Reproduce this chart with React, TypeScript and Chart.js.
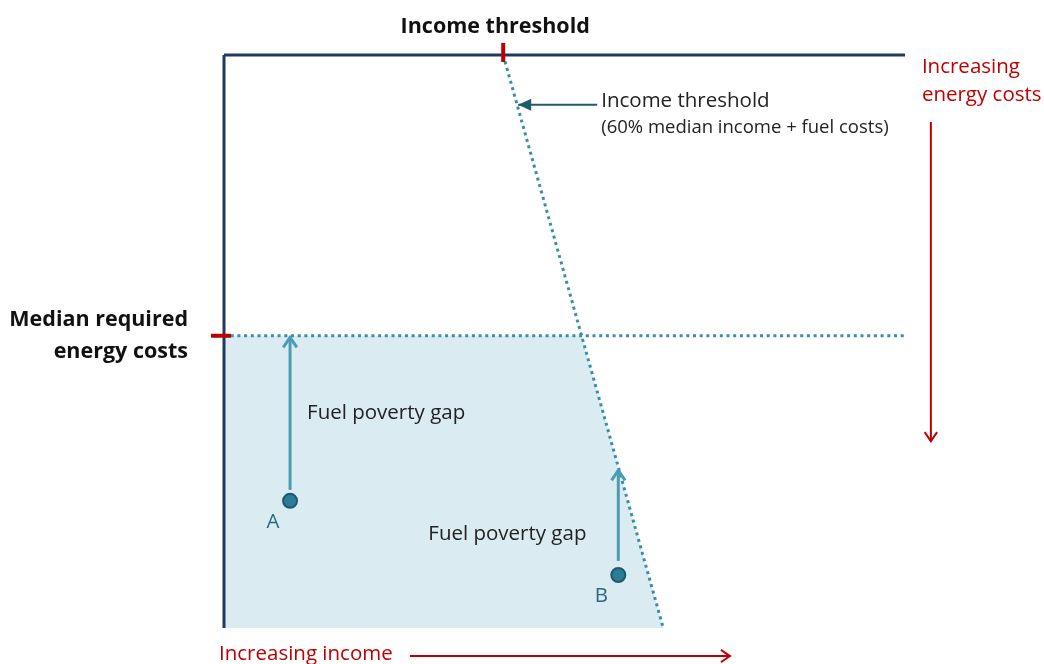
import React, { useEffect, useRef } from "react";
import { Chart, registerables } from "chart.js";

Chart.register(...registerables);

// Data coordinates: income 0..100 (left -> right), energy costs 0..100 (top -> bottom)
const medianCost = 49;
const thresholdLine = [ { x: 41, y: 0 }, { x: 64.5, y: 100 } ];
const medianLine = [ { x: 0, y: medianCost }, { x: 100, y: medianCost } ];
const shadedEdge = [ { x: 0, y: medianCost }, { x: 52.5, y: medianCost }, { x: 64.5, y: 100 } ];
const frameTop = [ { x: 0, y: 0 }, { x: 100, y: 0 } ];
const frameLeft = [ { x: 0, y: 0 }, { x: 0, y: 100 } ];
const pointLabels = ["A", "B"];
const households = [ { x: 9.7, y: 77.8 }, { x: 57.9, y: 90.75 } ];
const gapTops = [ { x: 9.7, y: 49.3 }, { x: 57.9, y: 72.5 } ];
const gapBottoms = [ { x: 9.7, y: 75.9 }, { x: 57.9, y: 88.3 } ];
const calloutArrow = [ { x: 54.8, y: 8.7 }, { x: 43.2, y: 8.7 } ];
const costArrow = [ { x: 103.8, y: 11.7 }, { x: 103.8, y: 67.4 } ];
const incomeArrow = [ { x: 27.3, y: 104.9 }, { x: 74.3, y: 104.9 } ];

const FONT = "'Open Sans', sans-serif";
const RED = "#c00000";
const DOT = "#3a8ea8";

function drawChevron(ctx: CanvasRenderingContext2D, x: number, y: number, angle: number, size: number) {
  ctx.beginPath();
  ctx.moveTo(x - size * Math.cos(angle - 0.6), y - size * Math.sin(angle - 0.6));
  ctx.lineTo(x, y);
  ctx.lineTo(x - size * Math.cos(angle + 0.6), y - size * Math.sin(angle + 0.6));
  ctx.stroke();
}

const overlay = {
  id: "overlay",
  afterDatasetsDraw(chart: any) {
    const ctx: CanvasRenderingContext2D = chart.ctx;
    const xs = chart.scales.x;
    const ys = chart.scales.y;
    const px = (v: number) => xs.getPixelForValue(v);
    const py = (v: number) => ys.getPixelForValue(v);
    ctx.save();
    ctx.lineCap = "butt";

    // red ticks
    ctx.strokeStyle = RED;
    ctx.lineWidth = 4;
    ctx.beginPath();
    ctx.moveTo(px(thresholdLine[0].x), py(0) - 12);
    ctx.lineTo(px(thresholdLine[0].x), py(0) + 7);
    ctx.stroke();
    ctx.beginPath();
    ctx.moveTo(px(0) - 13, py(medianCost));
    ctx.lineTo(px(0) + 7, py(medianCost));
    ctx.stroke();

    // gap arrow heads
    ctx.strokeStyle = "#4a9cb2";
    ctx.lineWidth = 3;
    ctx.lineJoin = "miter";
    gapTops.forEach((p) => drawChevron(ctx, px(p.x), py(p.y), -Math.PI / 2, 12));

    // callout arrow head (filled)
    ctx.fillStyle = "#1f5b6e";
    const tx = px(calloutArrow[1].x), ty = py(calloutArrow[1].y);
    ctx.beginPath();
    ctx.moveTo(tx, ty);
    ctx.lineTo(tx + 13, ty - 6);
    ctx.lineTo(tx + 13, ty + 6);
    ctx.closePath();
    ctx.fill();

    // red arrows heads
    ctx.strokeStyle = RED;
    ctx.lineWidth = 2;
    drawChevron(ctx, px(costArrow[1].x), py(costArrow[1].y), Math.PI / 2, 11);
    drawChevron(ctx, px(incomeArrow[1].x), py(incomeArrow[1].y), 0, 11);

    // texts
    ctx.textBaseline = "middle";
    ctx.fillStyle = "#111";
    ctx.font = `bold 21.5px ${FONT}`;
    ctx.textAlign = "center";
    ctx.fillText("Income threshold", px(thresholdLine[0].x) - 8, py(0) - 28);
    ctx.textAlign = "right";
    ctx.fillText("Median required", px(0) - 36, py(medianCost) - 16);
    ctx.fillText("energy costs", px(0) - 36, py(medianCost) + 16);

    ctx.textAlign = "left";
    ctx.fillStyle = "#222";
    ctx.font = `20.5px ${FONT}`;
    ctx.fillText("Income threshold", px(calloutArrow[0].x) + 4, py(calloutArrow[0].y) - 4);
    ctx.font = `18.5px ${FONT}`;
    ctx.fillText("(60% median income + fuel costs)", px(calloutArrow[0].x) + 4, py(calloutArrow[0].y) + 23);

    ctx.font = `20.5px ${FONT}`;
    ctx.fillText("Fuel poverty gap", px(gapTops[0].x) + 17, 413);
    ctx.fillText("Fuel poverty gap", px(gapTops[1].x) - 190, 534);

    ctx.fillStyle = "#2a6a80";
    ctx.textAlign = "center";
    households.forEach((p, i) => {
      ctx.fillText(pointLabels[i], px(p.x) - 17, py(p.y) + 21);
    });

    ctx.fillStyle = RED;
    ctx.font = `20.5px ${FONT}`;
    ctx.textAlign = "left";
    ctx.fillText("Increasing", px(costArrow[0].x) - 9, 67);
    ctx.fillText("energy costs", px(costArrow[0].x) - 9, 95);
    ctx.fillText("Increasing income", px(0) - 5, py(incomeArrow[0].y) - 2);

    ctx.restore();
  },
};

export default function App() {
  const ref = useRef<HTMLCanvasElement>(null);
  useEffect(() => {
    document.body.style.margin = "0";
    const chart = new Chart(ref.current!, {
      type: "scatter",
      data: {
        datasets: [
          {
            data: households,
            pointRadius: 7,
            pointBackgroundColor: "#2b7c96",
            pointBorderColor: "#1d5a6e",
            pointBorderWidth: 2,
          },
          { data: [gapBottoms[0], gapTops[0]], showLine: true, borderColor: "#4a9cb2", borderWidth: 3, pointRadius: 0 },
          { data: [gapBottoms[1], gapTops[1]], showLine: true, borderColor: "#4a9cb2", borderWidth: 3, pointRadius: 0 },
          { data: calloutArrow, showLine: true, borderColor: "#1f5b6e", borderWidth: 2, pointRadius: 0 },
          { data: costArrow, showLine: true, borderColor: RED, borderWidth: 2, pointRadius: 0 },
          { data: incomeArrow, showLine: true, borderColor: RED, borderWidth: 2, pointRadius: 0 },
          { data: frameTop, showLine: true, borderColor: "#1f3a5f", borderWidth: 3, pointRadius: 0 },
          { data: frameLeft, showLine: true, borderColor: "#1f3a5f", borderWidth: 3, pointRadius: 0 },
          { data: medianLine, showLine: true, borderColor: DOT, borderWidth: 3, borderDash: [3, 3.7], pointRadius: 0 },
          { data: thresholdLine, showLine: true, borderColor: DOT, borderWidth: 3, borderDash: [3, 3.7], pointRadius: 0 },
          {
            data: shadedEdge,
            showLine: true,
            borderWidth: 0,
            borderColor: "rgba(0,0,0,0)",
            pointRadius: 0,
            fill: { value: 100 },
            backgroundColor: "#dbebf2",
          } as any,
        ],
      },
      options: {
        responsive: false,
        animation: false,
        clip: false as any,
        layout: { padding: { left: 224, right: 139, top: 55, bottom: 36 } },
        plugins: { legend: { display: false }, tooltip: { enabled: false } },
        scales: {
          x: { type: "linear", min: 0, max: 100, display: false },
          y: { type: "linear", min: 0, max: 100, reverse: true, display: false },
        },
      },
      plugins: [overlay],
    });
    return () => chart.destroy();
  }, []);
  return (
    <div style={{ position: "absolute", left: 0, top: 0, width: 1044, height: 664, background: "#fff" }}>
      <canvas ref={ref} width={1044} height={664} />
    </div>
  );
}
